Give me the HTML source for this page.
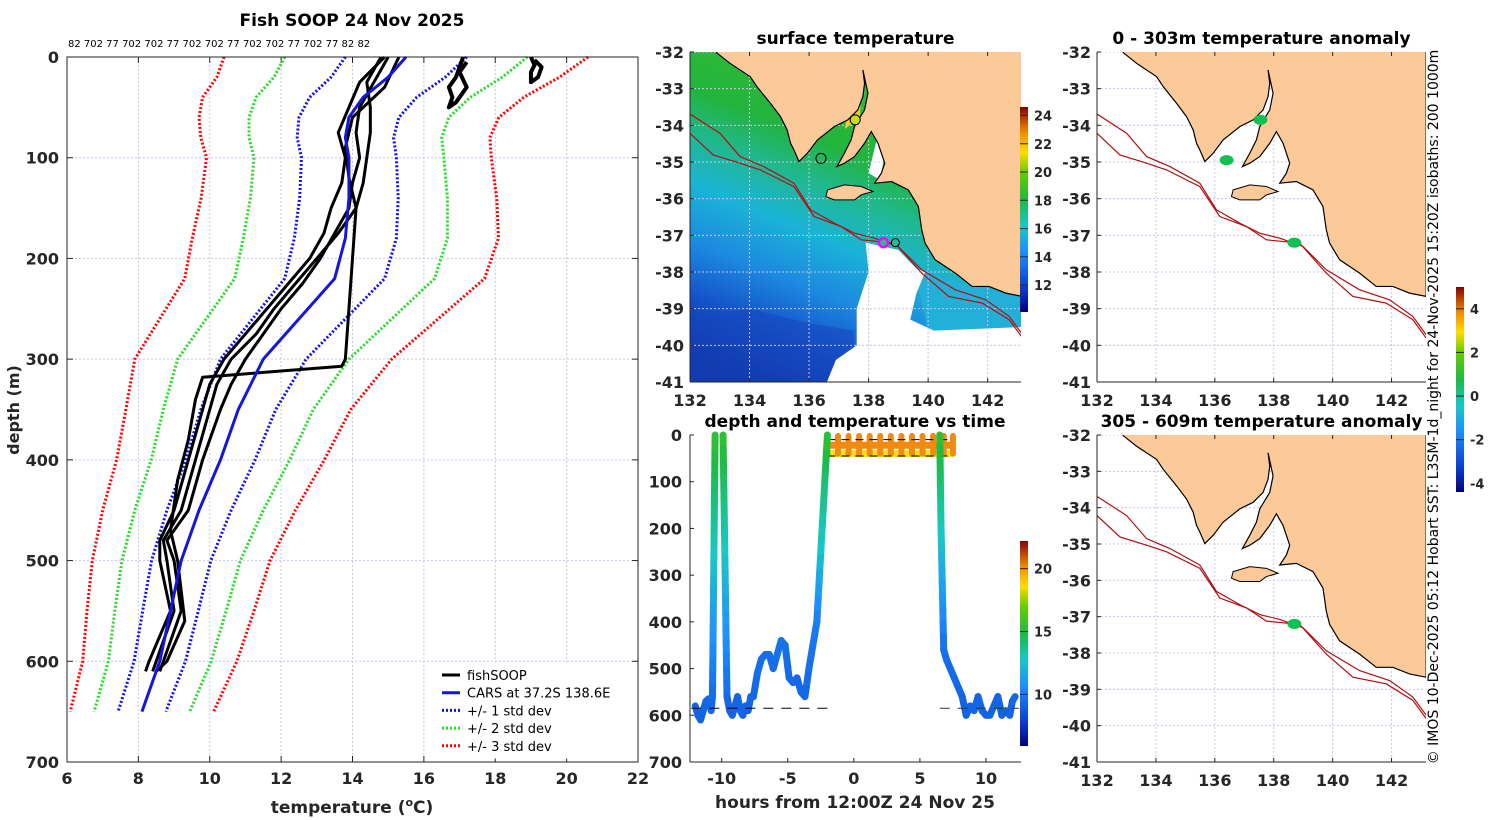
<!DOCTYPE html>
<html><head><meta charset="utf-8">
<style>
body{margin:0;background:#fff;}
svg{display:block;font-family:"DejaVu Sans","Liberation Sans",sans-serif;}
.tk{font-size:16px;font-weight:bold;fill:#262626;}
.tt{font-size:17px;font-weight:bold;fill:#000;}
.sm{font-size:13px;font-weight:bold;fill:#262626;}
</style></head>
<body>
<svg id="fig" width="1500" height="820" viewBox="0 0 1500 820" xmlns="http://www.w3.org/2000/svg">
<defs>
<linearGradient id="sstg" x1="0.6" y1="0" x2="0.2" y2="1">
<stop offset="0" stop-color="#3cbf30"/><stop offset="0.3" stop-color="#22b43c"/>
<stop offset="0.42" stop-color="#20b890"/><stop offset="0.55" stop-color="#1ab4d6"/>
<stop offset="0.7" stop-color="#1c8ae0"/><stop offset="0.85" stop-color="#1450c8"/>
<stop offset="1" stop-color="#0a2a9a"/></linearGradient>
<linearGradient id="cmap" x1="0" y1="1" x2="0" y2="0">
<stop offset="0" stop-color="#00007f"/><stop offset="0.12" stop-color="#0a3fd0"/>
<stop offset="0.3" stop-color="#1e90ff"/><stop offset="0.42" stop-color="#18c8c8"/>
<stop offset="0.55" stop-color="#1cbb44"/><stop offset="0.68" stop-color="#66cc00"/>
<stop offset="0.78" stop-color="#ffdd00"/><stop offset="0.88" stop-color="#ee8800"/>
<stop offset="1" stop-color="#880000"/></linearGradient>
<clipPath id="c1"><rect x="690" y="52" width="331" height="330"/></clipPath>
<clipPath id="c3"><rect x="1097" y="52" width="329" height="330"/></clipPath>
<clipPath id="c4"><rect x="1097" y="435" width="329" height="327"/></clipPath>
</defs>
</svg>
<script>
// ---------------- data ----------------
const carsDepth=[0,20,40,60,80,100,140,180,220,260,300,350,400,450,500,550,600,650];
const carsTemp=[15.5,15.0,14.3,13.9,13.8,13.9,13.9,13.8,13.5,12.5,11.5,10.8,10.3,9.7,9.2,8.9,8.6,8.1];
const carsStd=[1.7,1.6,1.5,1.4,1.35,1.33,1.38,1.43,1.4,1.3,1.2,1.05,0.97,0.9,0.83,0.78,0.72,0.67];
const prof1Depth=[0,25,50,75,100,125,150,175,200,225,250,275,300,325,350,400,450,480,500,550,600,610];
const prof1Temp=[15.0,14.6,14.2,14.1,14.2,14.0,13.9,13.5,13.1,12.6,12.0,11.5,11.0,10.6,10.3,9.8,9.4,8.8,9.0,9.2,8.7,8.6];
const prof2Temp=[14.8,14.4,14.5,14.5,14.4,14.3,14.1,13.6,13.0,12.4,11.8,11.3,10.6,10.2,10.0,9.6,9.2,8.7,8.8,9.0,8.5,8.4];
const prof3Temp=[14.9,14.2,13.9,13.6,13.8,13.7,13.4,13.2,12.8,12.2,11.6,11.0,10.4,10.0,9.8,9.4,9.0,8.6,8.6,8.9,8.3,8.2];
const prof4Depth=[0,30,60,90,120,150,200,250,300,307,318,340,380,420,470,500,560,600,610];
const prof4Temp=[15.3,14.9,14.0,13.8,13.9,14.1,14.0,13.9,13.8,13.7,9.8,9.6,9.4,9.1,8.9,9.1,9.3,8.8,8.5];
const prof5Depth=[0,10,20,30,40,50,45,30,15,5];
const prof5Temp=[17.1,17.0,16.9,16.7,16.8,16.7,16.9,17.2,17.0,17.2];
const prof6Depth=[0,8,15,25,20,10,3];
const prof6Temp=[19.0,19.1,19.0,19.0,19.2,19.3,19.1];
const topLabels=["82","702","77","702","702","77","702","702","77","702","702","77","702","77","82","82"];
const xTicks=[6,8,10,12,14,16,18,20,22];
const yTicks=[0,100,200,300,400,500,600,700];
// time series
const tsTime=[-12,-11.8,-11.6,-11.4,-11.2,-11,-10.8,-10.7,-10.5];
const tsDepth=[580,600,610,590,570,565,590,560,0];
const tsTemp=[9.3,9.2,9.1,9.2,9.3,9.4,9.3,9.4,15.5];
const ts1bTime=[-9.9,-9.6,-9.4,-9.2,-9.0,-8.8,-8.6,-8.4,-8.2,-8.0,-7.8,-7.6,-7.3,-7.0,-6.7,-6.4,-6.1,-5.8,-5.5,-5.2,-4.9,-4.6,-4.3,-4.0,-3.7,-3.4,-3.1,-2.8,-2.5,-2.2,-2.0];
const ts1bDepth=[0,560,590,600,580,560,590,600,580,590,560,560,510,480,470,470,500,470,440,450,520,530,520,550,560,500,450,400,250,100,0];
const ts1bTemp=[15.5,9.5,9.2,9.1,9.2,9.3,9.2,9.1,9.2,9.2,9.3,9.3,9.5,9.6,9.6,9.6,9.5,9.6,9.7,9.7,9.4,9.4,9.4,9.3,9.3,9.6,9.8,10,12.5,14,15.5];
const ts2Time=[6.5,6.6,6.8,7.0,7.3,7.6,7.9,8.2,8.5,8.8,9.1,9.4,9.7,10.0,10.3,10.6,10.9,11.2,11.5,11.8,12.0,12.2];
const ts2Depth=[0,200,460,480,500,520,540,560,600,580,590,560,590,600,600,580,560,600,590,600,570,560];
const ts2Temp=[15.5,13,9.7,9.6,9.5,9.4,9.4,9.3,9.1,9.2,9.1,9.3,9.2,9.1,9.1,9.2,9.3,9.1,9.2,9.1,9.3,9.3];
const surfTime=[-2,-1.6,-1.2,-0.8,-0.4,0,0.4,0.8,1.2,1.6,2,2.4,2.8,3.2,3.6,4,4.4,4.8,5.2,5.6,6,6.4,6.8,7.2,7.5];
const timeTicks=[-10,-5,0,5,10];
const tsDepthTicks=[0,100,200,300,400,500,600,700];
const cb2Ticks=[10,15,20];
const cb1Ticks=[12,14,16,18,20,22,24];
const cb3Ticks=[-4,-2,0,2,4];
const lonTicks=[132,134,136,138,140,142];
const latTicks=[-32,-33,-34,-35,-36,-37,-38,-39,-40,-41];
const anomLon1=[137.55,136.4,138.7];
const anomLat1=[-33.85,-34.95,-37.2];
const anomLon2=[138.7];
const anomLat2=[-37.2];

// ---------------- helpers ----------------
const S=document.getElementById('fig'),NS='http://www.w3.org/2000/svg';
function mk(tag,at,parent){const e=document.createElementNS(NS,tag);for(const k in at)e.setAttribute(k,at[k]);(parent||S).appendChild(e);return e;}
function txt(x,y,s,cls,anchor,parent){const t=mk('text',{x:x,y:y,class:cls,'text-anchor':anchor||'middle'},parent);t.textContent=s;return t;}
function grp(name){const g=mk('g',{});return g;}
function cmap(v){const st=[[0,[0,0,127]],[.12,[10,63,208]],[.3,[30,144,255]],[.42,[24,200,200]],[.55,[28,187,68]],[.68,[102,204,0]],[.78,[255,221,0]],[.88,[238,136,0]],[1,[136,0,0]]];
 v=Math.max(0,Math.min(1,v));for(let i=1;i<st.length;i++){if(v<=st[i][0]){const f=(v-st[i-1][0])/(st[i][0]-st[i-1][0]);const a=st[i-1][1],b=st[i][1];return 'rgb('+a.map((c,j)=>Math.round(c+(b[j]-c)*f)).join(',')+')';}}return 'rgb(136,0,0)';}

// ---------------- left profile panel ----------------
const L={x0:67,x1:638,y0:57,y1:762};
const px=t=>L.x0+(t-6)/16*(L.x1-L.x0), py=d=>L.y0+d/700*(L.y1-L.y0);
const gP=grp('profile-chart');
const gGrid=mk('g',{},gP);
xTicks.forEach(t=>{mk('line',{x1:px(t),x2:px(t),y1:L.y0,y2:L.y1,stroke:'#c8c8e8','stroke-width':1,'stroke-dasharray':'2,2'},gGrid);
 mk('line',{x1:px(t),x2:px(t),y1:L.y0,y2:L.y0+6,stroke:'#262626'},gGrid);mk('line',{x1:px(t),x2:px(t),y1:L.y1,y2:L.y1-6,stroke:'#262626'},gGrid);
 const e=txt(px(t),784,String(t),'tk','middle',gP);});
yTicks.forEach(d=>{mk('line',{x1:L.x0,x2:L.x1,y1:py(d),y2:py(d),stroke:'#c8c8e8','stroke-width':1,'stroke-dasharray':'2,2'},gGrid);
 mk('line',{x1:L.x0,x2:L.x0+6,y1:py(d),y2:py(d),stroke:'#262626'},gGrid);mk('line',{x1:L.x1,x2:L.x1-6,y1:py(d),y2:py(d),stroke:'#262626'},gGrid);
 const e=txt(L.x0-8,py(d)+6,String(d),'tk','end',gP);});
function polyl(ts,ds,stroke,w,dash,name){const p=mk('polyline',{points:ts.map((t,i)=>px(t)+','+py(ds[i])).join(' '),fill:'none',stroke:stroke,'stroke-width':w,'stroke-linejoin':'round','stroke-dasharray':dash||'none'},gP);
 return p;}
[[3,'red','std3'],[2,'#22dd22','std2'],[1,'#1010ee','std1']].forEach(([k,c,n])=>{
 polyl(carsTemp.map((t,i)=>t-k*carsStd[i]),carsDepth,c,3,'2,2',n+'-lower-line');
 polyl(carsTemp.map((t,i)=>t+k*carsStd[i]),carsDepth,c,3,'2,2',n+'-upper-line');});
polyl(prof1Temp,prof1Depth,'#000',3,null,'fishsoop-profile-1');
polyl(prof2Temp,prof1Depth,'#000',3,null,'fishsoop-profile-2');
polyl(prof3Temp,prof1Depth,'#000',3,null,'fishsoop-profile-3');
polyl(prof4Temp,prof4Depth,'#000',3,null,'fishsoop-profile-4');
polyl(prof5Temp,prof5Depth,'#000',4,null,'fishsoop-profile-5');
polyl(prof6Temp,prof6Depth,'#000',4,null,'fishsoop-profile-6');
polyl(carsTemp,carsDepth,'#1515e0',3,null,'cars-mean-line');
mk('rect',{x:L.x0,y:L.y0,width:L.x1-L.x0,height:L.y1-L.y0,fill:'none',stroke:'#262626','stroke-width':1},gP);
let e;
e=txt(352,26,'Fish SOOP 24 Nov 2025','tt','middle');
e=txt(68,47,topLabels.join(' '),'','start');e.setAttribute('style','font-size:10px;fill:#000');
e=txt(352,813,'','tk','middle');e.innerHTML='temperature (<tspan dy="-7" font-size="11">o</tspan><tspan dy="7">C)</tspan>';e.setAttribute('style','font-size:17px');
e=txt(0,0,'depth (m)','tk','middle');e.setAttribute('transform','translate(19,410) rotate(-90)');
// legend
const gL=grp('legend');
mk('rect',{x:437,y:663,width:190,height:95,fill:'#fff',stroke:'#fff'},gL);
[['fishSOOP','#000',null],['CARS at 37.2S 138.6E','#1515e0',null],['+/- 1 std dev','#1010ee','2,2'],['+/- 2 std dev','#22dd22','2,2'],['+/- 3 std dev','red','2,2']].forEach((r,i)=>{
 const y=675+i*17.7;const g=mk('g',{},gL);
 mk('line',{x1:442,x2:460,y1:y,y2:y,stroke:r[1],'stroke-width':3,'stroke-dasharray':r[2]||'none'},g);
 const t=txt(467,y+5,r[0],'','start',g);t.setAttribute('style','font-size:13px;fill:#000');});

// ---------------- coast geometry ----------------
const coastZ=[[190,68],[230,100],[290,140],[310,170],[350,220],[380,260],[400,300],[410,340],[420,360],[435,395],[460,370],[490,330],[540,290],[580,270],[610,240],[625,200],[630,160],[625,120],[640,190],[630,240],[600,290],[590,330],[570,370],[548,410],[570,400],[600,380],[630,340],[650,305],[670,340],[680,370],[690,400],[680,430],[660,460],[710,455],[760,480],[790,530],[800,600],[810,640],[840,690],[900,730],[950,770],[1000,770],[1050,790],[1100,800],[1100,60],[190,60]];
const kiZ=[[520,480],[570,465],[620,470],[655,485],[620,495],[600,510],[540,510],[515,500]];
const iso1Z=[[100,245],[200,310],[260,380],[330,410],[420,460],[470,540],[540,580],[600,610],[660,625],[730,650],[800,720],[900,780],[990,810],[1060,860],[1100,915]];
const iso2Z=[[100,300],[180,375],[260,400],[320,420],[420,470],[480,560],[560,590],[620,630],[720,640],[800,730],[880,800],[980,820],[1060,870],[1100,925]];
const zl=z=>[132+((1060+z[0]/3)-1097)/29.5,-32-((30+z[1]/3)-52)/36.7];
function mapPanel(name,x0,y0,x1,y1,lonR,clip,title,opts){
 const g=grp(name);
 const mx=lo=>x0+(lo-132)/(lonR-132)*(x1-x0), my=la=>y0+(-32-la)/9*(y1-y0);
 const P=arr=>arr.map(z=>{const q=zl(z);return mx(q[0])+','+my(q[1]);}).join(' ');
 const Q=arr=>arr.map(q=>mx(q[0])+','+my(q[1])).join(' ');
 const gi=mk('g',{'clip-path':'url(#'+clip+')'},g);
 if(opts.sst){mk('rect',{x:x0,y:y0,width:x1-x0,height:y1-y0,fill:'url(#sstg)'},gi);
  mk('polygon',{points:Q([[132,-39.3],[134,-39.0],[136,-39.4],[137.5,-39.6],[137.5,-41],[132,-41]]),fill:'#1848c0',opacity:0.6},gi);
  mk('polygon',{points:Q([[139.5,-37.8],[141,-38.3],[143.2,-38.6],[143.2,-39.6],[140,-39.6]]),fill:'#22b0d8'},gi);
  const cl=mk('polygon',{points:Q([[137.9,-37.2],[139.0,-37.4],[139.6,-37.9],[139.9,-38.0],[139.6,-38.6],[139.4,-39.3],[140.2,-39.6],[143.2,-39.5],[143.2,-41],[136.6,-41],[136.9,-40.4],[137.6,-40.0],[137.6,-39.0],[138.0,-38.0]]),fill:'#fff'},gi);
  
  mk('polygon',{points:Q([[137.4,-33.1],[137.8,-32.7],[137.7,-33.8],[137.2,-34.1]]),fill:'#e8d020'},gi);
  mk('polygon',{points:Q([[138.3,-34.3],[138.6,-34.4],[138.4,-35.5],[138.0,-35.3]]),fill:'#fff'},gi);
 } else mk('rect',{x:x0,y:y0,width:x1-x0,height:y1-y0,fill:'#fff'},gi);
 lonTicks.forEach(lo=>mk('line',{x1:mx(lo),x2:mx(lo),y1:y0,y2:y1,stroke:'#c8c8e8','stroke-dasharray':'2,2'},gi));
 latTicks.forEach(la=>mk('line',{x1:x0,x2:x1,y1:my(la),y2:my(la),stroke:'#c8c8e8','stroke-dasharray':'2,2'},gi));
 const land=mk('polygon',{points:P(coastZ),fill:'#fbca98',stroke:'#000','stroke-width':1.2},gi);
 mk('polygon',{points:P(kiZ),fill:'#fbca98',stroke:'#000','stroke-width':1},gi);
 const i1=mk('polyline',{points:P(iso1Z),fill:'none',stroke:'#b01010','stroke-width':1.2},gi);
 const i2=mk('polyline',{points:P(iso2Z),fill:'none',stroke:'#b01010','stroke-width':1.2},gi);
 if(opts.sst){mk('circle',{cx:mx(137.55),cy:my(-33.85),r:5,fill:'#c8e010',stroke:'#000'},gi);
  mk('circle',{cx:mx(136.4),cy:my(-34.9),r:5,fill:'none',stroke:'#000'},gi);
  mk('circle',{cx:mx(138.9),cy:my(-37.2),r:4,fill:'#20c090',stroke:'#000'},gi);
  const m=mk('circle',{cx:mx(138.5),cy:my(-37.2),r:4.5,fill:'#20c090',stroke:'#ff00ff','stroke-width':2.5},gi);}
 if(opts.lon){opts.lon.forEach((lo,i)=>{const d=mk('ellipse',{cx:mx(lo),cy:my(opts.lat[i]),rx:7,ry:5,fill:'#10c050'},gi);});}
 mk('line',{x1:x0,x2:x0,y1:y0,y2:y1,stroke:'#262626'},g);mk('line',{x1:x0,x2:x1,y1:y1,y2:y1,stroke:'#262626'},g);
 lonTicks.forEach(lo=>{mk('line',{x1:mx(lo),x2:mx(lo),y1:y1,y2:y1-4,stroke:'#262626'},g);mk('line',{x1:mx(lo),x2:mx(lo),y1:y0,y2:y0+4,stroke:'#262626'},g);
  const t=txt(mx(lo),y1+24,String(lo),'tk','middle',g);});
 latTicks.forEach(la=>{mk('line',{x1:x0,x2:x0+4,y1:my(la),y2:my(la),stroke:'#262626'},g);
  const t=txt(x0-6,my(la)+6,String(la),'tk','end',g);});
 const t=txt((x0+x1)/2,y0-8,title,'tt','middle',g);
}
mapPanel('sst-map',690,52,1021,382,143.12,'c1','surface temperature',{sst:true});
mapPanel('anomaly-map-shallow',1097,52,1426,382,143.17,'c3','0 - 303m temperature anomaly',{lon:anomLon1,lat:anomLat1});
mapPanel('anomaly-map-deep',1097,435,1426,762,143.17,'c4','305 - 609m temperature anomaly',{lon:anomLon2,lat:anomLat2});

// colorbars
function cbar(name,x,y0,y1,vmin,vmax,ticks){const g=grp(name);
 mk('rect',{x:x,y:y0,width:8,height:y1-y0,fill:'url(#cmap)'},g);
 ticks.forEach(v=>{const y=y1-(v-vmin)/(vmax-vmin)*(y1-y0);mk('line',{x1:x,x2:x+8,y1:y,y2:y,stroke:'#262626'},g);
  const t=txt(x+14,y+5,String(v),'sm','start',g);});}
cbar('sst-colorbar',1020,107,312,10.1,24.6,cb1Ticks);
cbar('time-colorbar',1020,541,746,5.9,22.2,cb2Ticks);
cbar('anomaly-colorbar',1456,287,492,-4.4,5,cb3Ticks);

// ---------------- time panel ----------------
const T={x0:690,x1:1021,y0:435,y1:762};
const tx=h=>T.x0+(h+12.4)/25.05*(T.x1-T.x0), ty=d=>T.y0+d/700*(T.y1-T.y0);
const tc=v=>cmap((v-5.9)/16.3);
const gT=grp('time-chart');
mk('line',{x1:T.x0,x2:T.x0,y1:T.y0,y2:T.y1,stroke:'#262626'},gT);
tsDepthTicks.forEach(d=>{mk('line',{x1:T.x0,x2:T.x0+4,y1:ty(d),y2:ty(d),stroke:'#262626'},gT);
 const t=txt(T.x0-8,ty(d)+6,String(d),'tk','end',gT);});
mk('line',{x1:T.x0,x2:T.x1,y1:T.y1,y2:T.y1,stroke:'#262626'},gT);
timeTicks.forEach(h=>{mk('line',{x1:tx(h),x2:tx(h),y1:T.y1,y2:T.y1-4,stroke:'#262626'},gT);
 const t=txt(tx(h),T.y1+22,String(h),'tk','middle',gT);});
function segs(ts,ds,tp,name){const g=mk('g',{},gT);
 for(let i=1;i<ts.length;i++){const n=Math.max(1,Math.ceil(Math.abs(ds[i]-ds[i-1])/30));
  for(let k=0;k<n;k++){const a=k/n,b=(k+1)/n;
   mk('line',{x1:tx(ts[i-1]+(ts[i]-ts[i-1])*a),y1:ty(ds[i-1]+(ds[i]-ds[i-1])*a),x2:tx(ts[i-1]+(ts[i]-ts[i-1])*b),y2:ty(ds[i-1]+(ds[i]-ds[i-1])*b),stroke:tc(tp[i-1]+(tp[i]-tp[i-1])*(a+b)/2),'stroke-width':7,'stroke-linecap':'round'},g);}}}
const gs=mk('g',{},gT);
mk('polyline',{points:surfTime.map(h=>tx(h)+','+ty(40)).join(' '),fill:'none',stroke:'#f0e020','stroke-width':7},gs);
surfTime.forEach((h,i)=>{if(i%2==0){mk('line',{x1:tx(h),x2:tx(h),y1:ty(2),y2:ty(40),stroke:'#f08a10','stroke-width':6,'stroke-linecap':'round'},gs);}});
mk('polyline',{points:surfTime.map(h=>tx(h)+','+ty(22)).join(' '),fill:'none',stroke:'#f08a10','stroke-width':7},gs);
mk('line',{x1:tx(-2),x2:tx(7.3),y1:ty(10),y2:ty(10),stroke:'#000','stroke-dasharray':'8,6'},gs);
mk('line',{x1:tx(-2),x2:tx(7.3),y1:ty(45),y2:ty(45),stroke:'#000','stroke-dasharray':'8,6'},gs);
segs(tsTime,tsDepth,tsTemp,'dive-track-1');
segs(ts1bTime,ts1bDepth,ts1bTemp,'dive-track-1b');
segs(ts2Time,ts2Depth,ts2Temp,'dive-track-2');
mk('line',{x1:tx(-12.3),x2:tx(-2),y1:ty(585),y2:ty(585),stroke:'#000','stroke-dasharray':'10,8'},gT);
mk('line',{x1:tx(6.5),x2:tx(12.5),y1:ty(585),y2:ty(585),stroke:'#333','stroke-dasharray':'10,8'},gT);
e=txt(855,427,'depth and temperature vs time','tt','middle');
e=txt(855,808,'hours from 12:00Z 24 Nov 25','tk','middle');e.setAttribute('style','font-size:17px');

// credit
e=txt(0,0,'© IMOS 10-Dec-2025 05:12 Hobart SST: L3SM-1d_night for 24-Nov-2025 15:20Z isobaths: 200  1000m','','middle');
e.setAttribute('style','font-size:14px;fill:#000');e.setAttribute('transform','translate(1438,407) rotate(-90)');

</script>
</body></html>
